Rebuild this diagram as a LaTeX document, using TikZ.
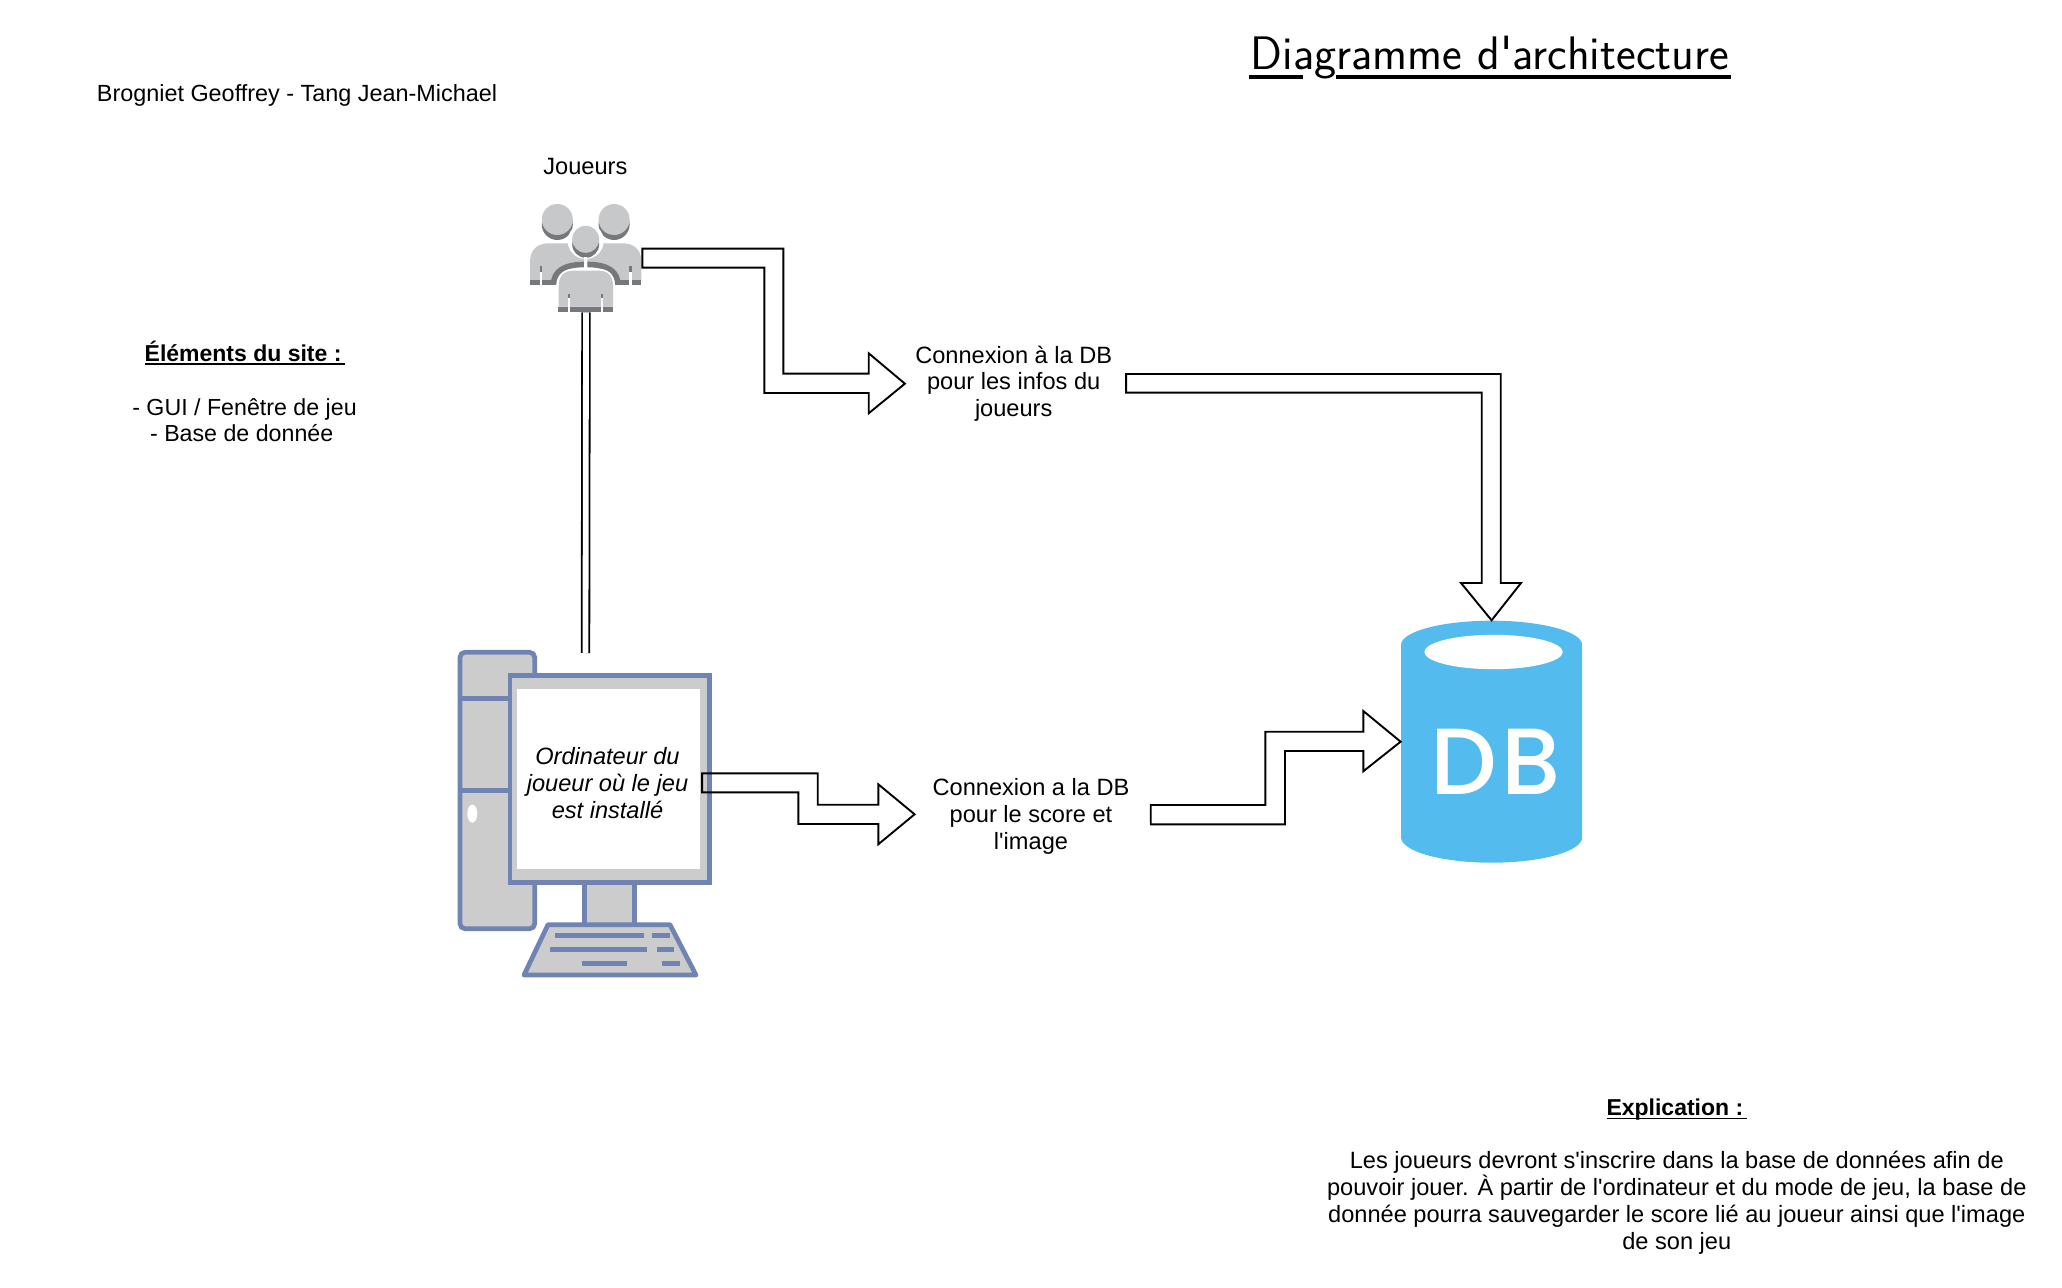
\documentclass[tikz,border=0pt]{standalone}
\usepackage{fontspec}
\usetikzlibrary{calc}
\setmainfont{Liberation Sans}
\newfontfamily\plainbody{Liberation Sans}
\newfontfamily\titlefont{Latin Modern Sans}
\newfontfamily\dbfont[LetterSpace=5,UprightFont={* Medium}]{Poppins}
\definecolor{pcblue}{HTML}{6F84B3}
\definecolor{pcgray}{HTML}{CCCCCC}
\definecolor{dbblue}{HTML}{54BBEE}
\definecolor{plight}{HTML}{C7C8CA}
\definecolor{pdark}{HTML}{77787B}
\newlength\ulwidth
\newcommand{\straightq}{{\plainbody'}}
\newcommand{\ulbold}[1]{\settowidth{\ulwidth}{\bfseries #1}\rlap{\rule[-1.7pt]{\ulwidth}{0.75pt}}{\bfseries #1}}
\newcommand{\backperson}{%
  \fill[pdark] (557.3,224.5) circle [radius=15.5];
  \fill[plight] (557.3,219.5) circle [radius=15.5];
  \fill[plight] (530,280) -- (530,262) .. controls (530,250) and (537,243.3) .. (549,243.3) -- (584,243.3) -- (584,264.5) .. controls (563,264.5) and (554,272) .. (553,281) -- cycle;
  \draw[pdark,line width=2.8pt] (553.5,284) .. controls (554,272) and (563,264.5) .. (584,264.5);
  \fill[pdark] (530,280) rectangle (556,285);
  \fill[white] (539.5,272) rectangle (542,285.5);
  \fill[pdark] (539.5,266.5) rectangle (542,272);
}
\tikzset{
  blockarrow/.style={draw=black,line width=0.95pt,line join=miter},
  label/.style={font=\fontsize{11.8}{13.45}\selectfont,align=center,inner sep=0pt,text=black},
  pcline/.style={draw=pcblue,line width=2.35pt},
  keyline/.style={draw=pcblue,line width=2.3pt},
  linkline/.style={draw=black,line width=0.9pt,double=white,double distance=2.9pt},
  titlerule/.style={draw=black,line width=2pt}
}
\begin{document}
\begin{tikzpicture}[x=0.5pt,y=-0.5pt]
\path[use as bounding box,fill=white] (0,0) rectangle (2062,1288);

% title
\node[anchor=base west,inner sep=0pt,font=\titlefont\fontsize{23.5}{28}\selectfont] (title) at (1250.5,70) {Diagramme\hspace{7.5pt}d'architecture};
\draw[titlerule] (1249,77) -- (1303.3,77);
\draw[titlerule] (1335.7,77) -- (1731,77);

\node[label,anchor=west,font=\fontsize{11.7}{13.45}\selectfont] (authors) at (96.5,95) {Brogniet Geoffrey - Tang Jean-Michael};
\node[label] (joueurs) at (585.4,166.5) {Joueurs};
\node[label,font=\fontsize{11.5}{13.45}\selectfont] (elemtitle) at (245,352.7) {\ulbold{Éléments du site :\,}};
\node[label,font=\fontsize{11.6}{13.45}\selectfont] (elem1) at (244.5,409) {- GUI / Fenêtre de jeu};
\node[label,font=\fontsize{11.6}{13.45}\selectfont] (elem2) at (241.7,433) {- Base de donnée};

% players icon
\node[inner sep=0pt,minimum width=56pt,minimum height=54pt] (players) at (586,258) {};
\backperson
\begin{scope}[shift={(1171.4,0)},xscale=-1]
\backperson
\end{scope}
\fill[white] (585.7,241) circle [radius=18];
\fill[pdark] (585.7,244.3) circle [radius=13.5];
\fill[plight] (585.7,239.3) circle [radius=13.5];
\draw[white,line width=1.7pt,fill=plight] (558.7,306.7) -- (558.7,286) .. controls (558.7,276) and (564,270.7) .. (573,270.7) -- (599,270.7) .. controls (608,270.7) and (613,276) .. (613,286) -- (613,306.7);
\fill[plight] (558.7,306.7) -- (558.7,286) .. controls (558.7,276) and (564,270.7) .. (573,270.7) -- (599,270.7) .. controls (608,270.7) and (613,276) .. (613,286) -- (613,306.7) -- cycle;
\fill[white] (584.2,257) rectangle (587.2,268);
\fill[pdark] (558,306.7) rectangle (613,312);
\fill[white] (568.2,298) rectangle (570.2,312.5);
\fill[white] (601,298) rectangle (603,312.5);
\fill[pdark] (568.2,294) rectangle (570.2,298);
\fill[pdark] (601,294) rectangle (603,298);

% computer
\draw[pcline,fill=pcgray,rounded corners=2.5pt] (460,652.3) rectangle (534.7,928.7);
\draw[pcline] (460,698.3) -- (510,698.3);
\draw[pcline] (460,790.3) -- (510,790.3);
\fill[white] (472.3,813.7) ellipse [x radius=5,y radius=9];
\draw[pcline,fill=pcgray] (584.7,880) rectangle (634.3,926);
\draw[pcline,fill=pcgray,line join=miter] (510,675.7) rectangle (709.3,882.7);
\node[fill=white,inner sep=0pt,minimum width=91.5pt,minimum height=90pt] (screen) at (608.5,779) {};
\draw[pcline,fill=pcgray,line join=round] (548,924.7) -- (670,924.7) -- (696,975) -- (524,975) -- cycle;
\draw[keyline] (555,935.7) -- (644.3,935.7);
\draw[keyline] (652,935.7) -- (669.7,935.7);
\draw[keyline] (550,949.7) -- (647,949.7);
\draw[keyline] (657,949.7) -- (674.3,949.7);
\draw[keyline] (582.3,963.3) -- (627,963.3);
\draw[keyline] (662,963.3) -- (679.7,963.3);
\node[label,font=\fontsize{11.8}{13.45}\selectfont\itshape] (pclabel) at (607.5,782.8) {Ordinateur du\\joueur où le jeu\\est installé};
\coordinate (pctop) at (585.5,653);

% database
\node[inner sep=0pt,minimum width=90.6pt,minimum height=121pt] (db) at (1491.6,741.7) {};
\fill[dbblue] (1401,645) .. controls (1401,631.6) and (1441.6,620.7) .. (1491.6,620.7) .. controls (1541.6,620.7) and (1582.2,631.6) .. (1582.2,645) -- (1582.2,837.3) .. controls (1582.2,851.3) and (1541.6,862.7) .. (1491.6,862.7) .. controls (1441.6,862.7) and (1401,851.3) .. (1401,837.3) -- cycle;
\fill[white] (1493.5,652) ellipse [x radius=69.2,y radius=17.2];
\node[inner sep=0pt,text=white,font=\dbfont\fontsize{47}{47}\selectfont] (dbtext) at (1495.5,761.8) {DB};

% connection labels
\node[label,minimum width=108.4pt] (conn1) at (1013.7,383.7) {Connexion à la DB\\pour les infos du\\joueurs};
\node[label,minimum width=116pt] (conn2) at (1031,816.2) {Connexion a la DB\\pour le score et\\l\straightq image};

% connectors
\draw[linkline] (players.south) -- (pctop);
\draw[blockarrow] ($(players.east)+(0,-9.3)$) -- (783.3,248.7) -- (783.3,373.7) -- (868.7,373.7) -- (868.7,353.3) -- (conn1.west) -- (868.7,413.3) -- (868.7,393) -- (764.3,393) -- (764.3,267.7) -- ($(players.east)+(0,9.7)$) -- cycle;
\draw[blockarrow] ($(conn1.east)+(3.6,-9.7)$) -- (1500.7,374) -- (1500.7,583) -- (1521,583) -- (db.north) -- (1461,583) -- (1481.7,583) -- (1481.7,392.7) -- ($(conn1.east)+(3.6,9)$) -- cycle;
\draw[blockarrow] ($(screen.east)+(1.7,-5.7)$) -- (817.7,773.3) -- (817.7,804.7) -- (878.3,804.7) -- (878.3,784.3) -- ($(conn2.west)+(0,-1.9)$) -- (878.3,844.3) -- (878.3,824) -- (798.3,824) -- (798.3,792.3) -- ($(screen.east)+(1.7,13.3)$) -- cycle;
\draw[blockarrow] ($(conn2.east)+(3.3,-11.2)$) -- (1265.3,805) -- (1265.3,731.7) -- (1363.3,731.7) -- (1363.3,711) -- (db.west) -- (1363.3,771.3) -- (1363.3,751) -- (1285,751) -- (1285,824.3) -- ($(conn2.east)+(3.3,8.1)$) -- cycle;

% explanation
\node[label,font=\fontsize{11.5}{13.45}\selectfont] (exptitle) at (1676.8,1109.7) {\ulbold{Explication :\,}};
\node[label] (exptext) at (1676.8,1202.5) {Les joueurs devront s\straightq inscrire dans la base de données afin de\\pouvoir jouer. À partir de l\straightq ordinateur et du mode de jeu, la base de\\donnée pourra sauvegarder le score lié au joueur ainsi que l\straightq image\\de son jeu};
\end{tikzpicture}
\end{document}
